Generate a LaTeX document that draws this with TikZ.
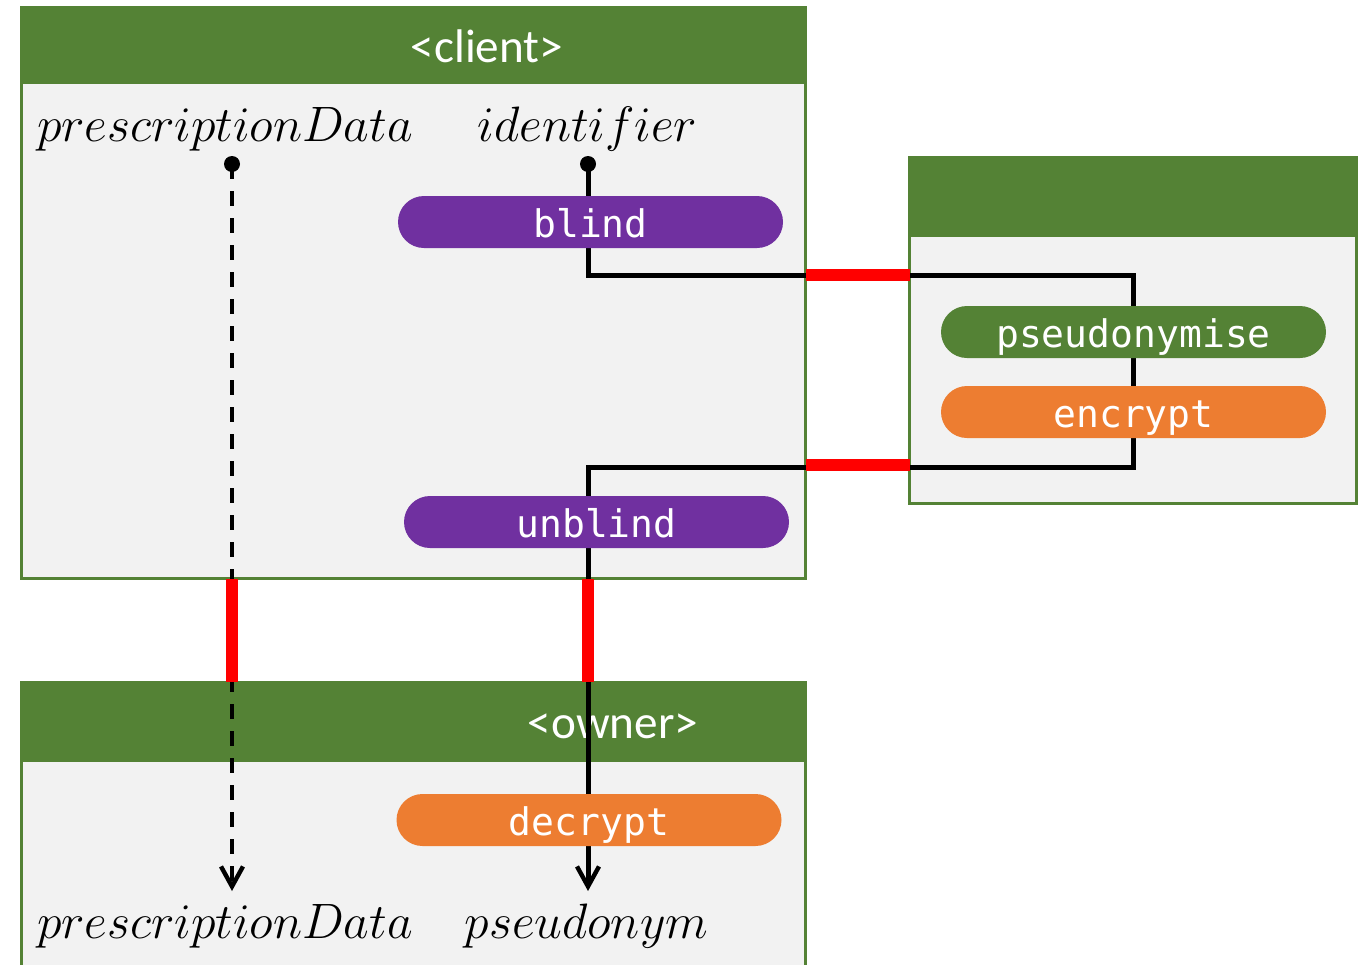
\documentclass[tikz,border=0pt]{standalone}
\usepackage{fontspec}
\newfontfamily\calib{Carlito}
\newfontfamily\monof{DejaVu Sans Mono}
\usetikzlibrary{arrows.meta}
\definecolor{grn}{HTML}{548235}
\definecolor{purp}{HTML}{7030A0}
\definecolor{orng}{HTML}{ED7D31}
\definecolor{bodygray}{HTML}{F2F2F2}
\tikzset{
  box/.style={draw=grn, line width=1.5pt, fill=bodygray, inner sep=0pt, outer sep=0pt},
  hdr/.style={fill=grn, inner sep=0pt, outer sep=0pt},
  hdrtext/.style={text=white, inner sep=0pt, anchor=base, font=\calib\fontsize{23.6}{28}\selectfont},
  pill/.style={rounded corners=13pt, minimum width=192.5pt, minimum height=26pt, inner sep=0pt,
    text height=15pt, text depth=0pt, text=white, font=\monof\fontsize{19}{22}\selectfont},
  var/.style={font=\fontsize{24.88}{30}\selectfont, inner sep=0pt, anchor=base},
  flow/.style={line width=2.5pt},
  dflow/.style={line width=2pt, dash pattern=on 7.5pt off 6pt},
  redmark/.style={draw=red, line width=6pt},
  dotst/.style={circle, fill=black, minimum size=8pt, inner sep=0pt},
  tip/.style={-{Straight Barb[length=10pt,width=11pt,line width=2.2pt]}}
}
\begin{document}
\begin{tikzpicture}[x=0.5pt,y=-0.5pt]
\useasboundingbox (0,0) rectangle (1360,964);
\clip (0,0) rectangle (1360,964);
% boxes
\node[box, minimum width=392pt, minimum height=285.5pt] (client) at (413.5,293) {};
\node[hdr, minimum width=393.5pt, minimum height=39pt] (clienthdr) at (413.5,45) {};
\node[box, minimum width=223.5pt, minimum height=173pt] (server) at (1133,330.5) {};
\node[hdr, minimum width=225pt, minimum height=40.5pt] (serverhdr) at (1133,196.5) {};
\node[box, minimum width=392pt, minimum height=180pt] (owner) at (413.5,862.5) {};
\node[hdr, minimum width=393.5pt, minimum height=40pt] (ownerhdr) at (413.5,722) {};
% header labels
\node[hdrtext] (clientlbl) at (487,62) {<client>};
\node[hdrtext] (ownerlbl) at (613,738) {<owner>};
% variables
\node[var] (pdc) at (225,141) {$prescriptionData$};
\node[var] (idf) at (587.5,141) {$identifier$};
\node[var] (pdo) at (225,938) {$prescriptionData$};
\node[var] (psd) at (586.5,938) {$pseudonym$};
% dots and turn points
\node[dotst] (dpc) at (232,164) {};
\node[dotst] (did) at (588,164) {};
\coordinate (r1) at (1133,275);
\coordinate (r2) at (1133,467);
\coordinate (pdin) at (232,891);
\coordinate (psin) at (588,891);
% flows
\draw[dflow, tip] (dpc.center) -- (pdin);
\draw[flow, tip] (did.center) |- (r1) -- (r2) -| (psin);
% trust boundary crossings
\draw[redmark] (client.east |- r1) -- (server.west |- r1);
\draw[redmark] (client.east |- 0,465) -- (server.west |- 0,465);
\draw[redmark] (client.south -| dpc) -- (ownerhdr.north -| dpc);
\draw[redmark] (client.south -| psin) -- (ownerhdr.north -| psin);
% operations
\node[pill, fill=purp] (blind) at (590.5,222) {blind};
\node[pill, fill=grn] (pseudonymise) at (1133.5,332) {pseudonymise};
\node[pill, fill=orng] (encrypt) at (1133.5,412) {encrypt};
\node[pill, fill=purp] (unblind) at (596.5,522) {unblind};
\node[pill, fill=orng] (decrypt) at (589,820) {decrypt};
\end{tikzpicture}
\end{document}
